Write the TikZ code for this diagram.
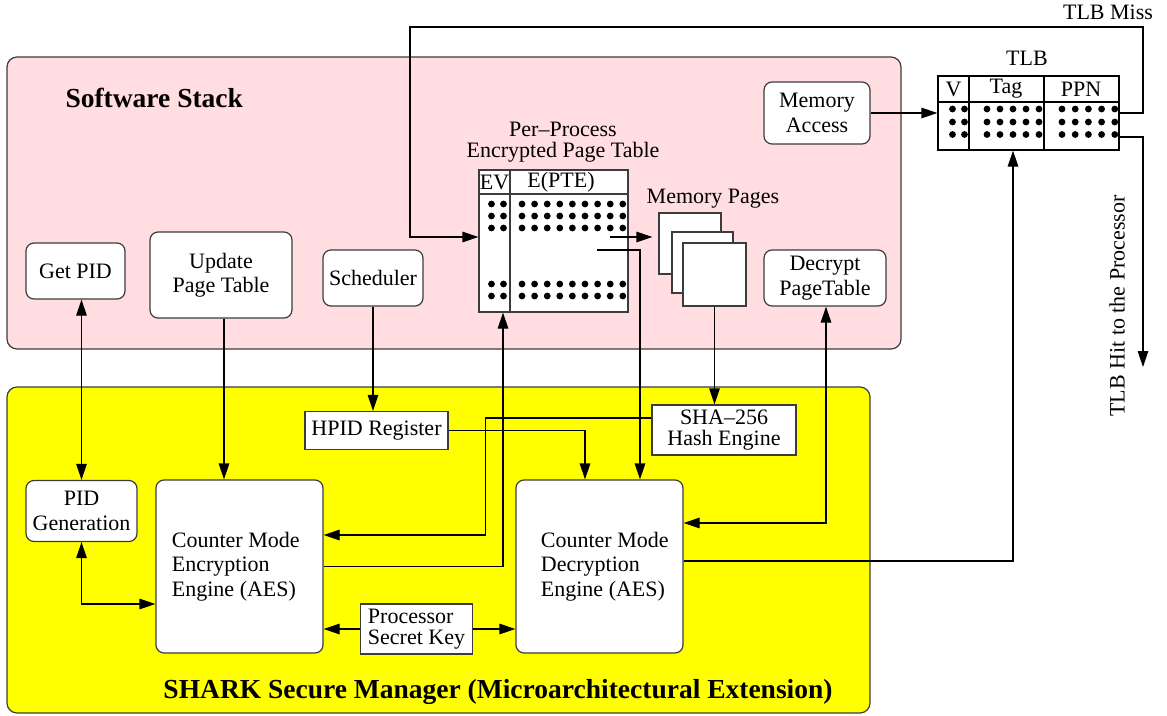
\documentclass[tikz,border=0pt]{standalone}
\usepackage{fontspec}
\setmainfont{Liberation Serif}
\usetikzlibrary{arrows.meta,calc}
\definecolor{stackpink}{RGB}{255,221,224}
\definecolor{smyellow}{RGB}{255,255,0}
\definecolor{edgegray}{RGB}{60,60,60}
\newcommand\nfont{\fontsize{22}{24.5}\selectfont}
\newcommand\tightfont{\fontsize{22}{21}\selectfont}
\newcommand\titlefont{\fontsize{27.5}{30}\selectfont\bfseries}
\tikzset{
  >={Triangle[length=16pt,width=10.5pt]},
  panel/.style={draw=edgegray,line width=1.2pt,rounded corners=10pt},
  rbox/.style={draw=edgegray,fill=white,line width=1.2pt,rounded corners=8pt,
    inner sep=0pt,align=center,font=\nfont},
  sbox/.style={draw=edgegray,fill=white,line width=1.2pt,inner sep=0pt,
    align=center,font=\nfont},
  conn/.style={line width=1.2pt,black},
  dotmark/.style={fill=black}
}
\begin{document}
\begin{tikzpicture}[x=1pt,y=-1pt]
\useasboundingbox (0,0) rectangle (1167,715);

% the two layers
\draw[panel,fill=stackpink] (7,57) rectangle (901,349);
\draw[panel,fill=smyellow] (7,387) rectangle (870,713);
\node[font=\titlefont,anchor=west] (swtitle) at (62,98) {Software Stack};
\node[font=\titlefont] (smtitle) at (498,692) {SHARK Secure Manager (Microarchitectural Extension)};

% software stack components
\node[rbox,minimum width=99,minimum height=56] (getpid) at (75.5,271) {Get PID};
\node[rbox,minimum width=142,minimum height=86] (update) at (221,275) {Update\\Page Table};
\node[rbox,minimum width=100,minimum height=56] (sched) at (373,278) {Scheduler};
\node[rbox,minimum width=106,minimum height=62] (memacc) at (817,113) {Memory\\Access};
\node[rbox,minimum width=122,minimum height=56] (decpt) at (825,278) {Decrypt\\PageTable};

% encrypted page table
\node[sbox,minimum width=149,minimum height=142] (pt) at (553.5,241) {};
\draw[draw=edgegray,line width=1.2pt] (pt.north west |- 0,194) -- (pt.north east |- 0,194);
\draw[draw=edgegray,line width=1.2pt] (pt.north west -| 510,0) -- (pt.south west -| 510,0);
\node[font=\nfont] (ev) at (494.5,182) {EV};
\node[font=\nfont] (epte) at (561,182) {E(PTE)};
\node[font=\tightfont,align=center] (pttitle) at (563,142) {Per–Process\\Encrypted Page Table};
\foreach \y in {204,216,228,284,296}{
  \foreach \x in {491.5,503.5}{\fill[dotmark] (\x,\y) circle[radius=3.4pt];}
  \foreach \i in {0,...,8}{\fill[dotmark] ({522+\i*12.6},\y) circle[radius=3.4pt];}
}

% memory pages
\node[sbox,minimum width=62,minimum height=61] (pageback) at (690,243.5) {};
\node[sbox,minimum width=61,minimum height=61] (pagemid) at (702.5,262.5) {};
\node[sbox,minimum width=63,minimum height=63] (pages) at (714.5,274.5) {};
\node[font=\nfont] (pagestitle) at (713,199) {Memory Pages};

% TLB
\node[sbox,draw=black,minimum width=181,minimum height=74] (tlb) at (1028.5,113) {};
\draw[line width=1.2pt] (tlb.west |- 0,102) -- (tlb.east |- 0,102);
\draw[line width=1.2pt] (tlb.north -| 969,0) -- (tlb.south -| 969,0);
\draw[line width=1.2pt] (tlb.north -| 1044,0) -- (tlb.south -| 1044,0);
\node[font=\nfont] (tlbv) at (953.5,89) {V};
\node[font=\nfont] (tlbtag) at (1006,89) {Tag};
\node[font=\nfont] (tlbppn) at (1081,89) {PPN};
\node[font=\nfont] (tlbtitle) at (1027,58) {TLB};
\foreach \y in {109,122,134.5}{
  \foreach \x in {952.5,964.5}{\fill[dotmark] (\x,\y) circle[radius=3.4pt];}
  \foreach \i in {0,...,4}{\fill[dotmark] ({987+\i*13},\y) circle[radius=3.4pt];}
  \foreach \i in {0,...,4}{\fill[dotmark] ({1062+\i*13.2},\y) circle[radius=3.4pt];}
}

% secure manager components
\node[rbox,minimum width=111,minimum height=61] (pidgen) at (81.5,511) {PID\\Generation};
\node[rbox,minimum width=167,minimum height=173,
  label={[font=\nfont,align=left,anchor=west,xshift=13pt]west:Counter Mode\\Encryption\\Engine (AES)}] (enc) at (239.5,566.5) {};
\node[rbox,minimum width=167,minimum height=173,
  label={[font=\nfont,align=left,anchor=west,xshift=22pt]west:Counter Mode\\Decryption\\Engine (AES)}] (dec) at (599.5,566.5) {};
\node[sbox,minimum width=143,minimum height=38] (hpid) at (376.5,430.5) {HPID Register};
\node[sbox,font=\tightfont,minimum width=144,minimum height=50] (sha) at (724,430) {SHA–256\\Hash Engine};
\node[sbox,font=\tightfont,align=left,minimum width=112,minimum height=50] (key) at (416.5,629) {Processor\\Secret Key};

% connectors
\draw[conn,<->] (getpid.south -| pidgen.north) -- (pidgen.north);
\draw[conn,<->] (pidgen.south) |- ($(enc.west)+(0,37.5)$);
\draw[conn,->] ($(update.south)+(3,0)$) -- ($(enc.north)+(-15.5,0)$);
\draw[conn,->] (sched.south) -- (sched.south |- hpid.north);
\draw[conn,->] (hpid.east) -| ($(dec.north)+(-14.5,0)$);
\draw[conn,->] ($(pt.center)+(43.5,9)$) -| ($(dec.north)+(40.5,0)$);
\draw[conn,->] ($(pt.center)+(56.5,-4)$) -- ($(pageback.west)+(-6,-6.5)$);
\draw[conn,->] (pages.south) -- (pages.south |- sha.north);
\draw[conn,->] ($(sha.west)+(0,-12)$) -| ($(enc.east)+(162,-31.5)$) -- ($(enc.east)+(0,-31.5)$);
\draw[conn,->] (enc.east) -| ($(pt.south)+(-50.5,0)$);
\draw[conn,->] (key.west) -- (key.west -| enc.east);
\draw[conn,->] (key.east) -- (key.east -| dec.west);
\draw[conn,<->] ($(decpt.south)+(1,0)$) |- ($(dec.east)+(0,-43.5)$);
\draw[conn,->] ($(dec.east)+(0,-5.5)$) -| ($(tlb.south)+(-15.5,0)$);
\draw[conn,->] (memacc.east) -- (memacc.east -| tlb.west);

% TLB miss walks the page table, TLB hit goes back to the processor
\coordinate (missturn) at (1143,27);
\coordinate (misscorner) at (410,27);
\coordinate (hitend) at (1143,367);
\draw[conn,->] (tlb.east) -| (missturn) -- (misscorner) |- ($(pt.west)+(0,-4)$);
\node[font=\nfont] (misslabel) at (1108,12) {TLB Miss};
\draw[conn,->] ($(tlb.east)+(0,24)$) -| (hitend);
\node[font=\nfont,rotate=90] (hitlabel) at (1117,306) {TLB Hit to the Processor};
\end{tikzpicture}
\end{document}
